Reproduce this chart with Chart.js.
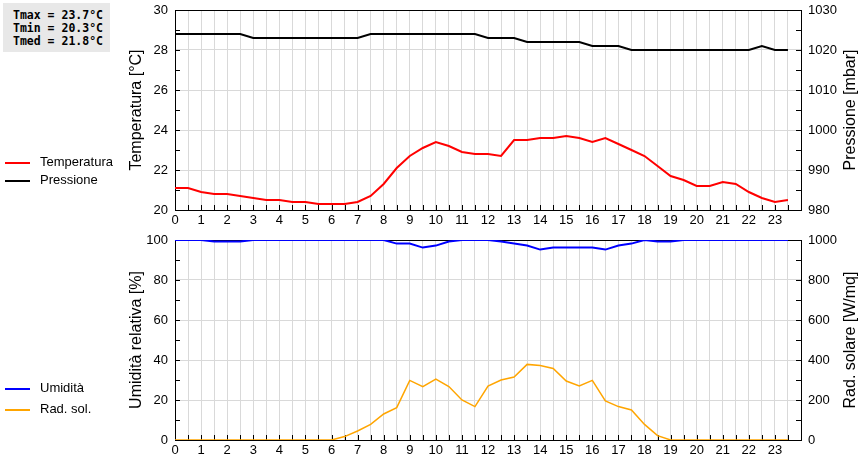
<!DOCTYPE html>
<html>
<head>
<meta charset="utf-8">
<script src="https://cdn.jsdelivr.net/npm/chart.js@4/dist/chart.umd.min.js"></script>
<style>
  body { margin: 0; width: 860px; height: 460px; background: #fff; position: relative; overflow: hidden; }
  .wrap { position: absolute; left: 0; width: 860px; height: 230px; }
  .stats {
    position: absolute; left: 3px; top: 3px; width: 97px; height: 40px;
    padding: 6px 0 3px 10px; background: #e8e8e8;
    font: bold 11.5px "DejaVu Sans Mono", monospace; line-height: 13px; color: #000; white-space: pre;
  }
  .leg { position: absolute; left: 5px; font: 13px "Liberation Sans", Arial, sans-serif; color: #000; }
  .leg span { display: inline-block; width: 25px; height: 2px; vertical-align: middle; margin-right: 10px; }
</style>
</head>
<body>
<div class="wrap" style="top:0"><canvas id="top"></canvas></div>
<div class="wrap" style="top:230px"><canvas id="bottom"></canvas></div>

<div class="stats">Tmax = 23.7°C
Tmin = 20.3°C
Tmed = 21.8°C</div>

<div class="leg" style="top:154px"><span style="background:#ff0000"></span>Temperatura</div>
<div class="leg" style="top:172px"><span style="background:#000000"></span>Pressione</div>
<div class="leg" style="top:380px"><span style="background:#0000ff"></span>Umidità</div>
<div class="leg" style="top:401px"><span style="background:#ffa500"></span>Rad. sol.</div>

<script>
// half-hour readings
const hours = [0, 0.5, 1, 1.5, 2, 2.5, 3, 3.5, 4, 4.5, 5, 5.5, 6, 6.5, 7, 7.5,
    8, 8.5, 9, 9.5, 10, 10.5, 11, 11.5, 12, 12.5, 13, 13.5, 14, 14.5, 15, 15.5,
    16, 16.5, 17, 17.5, 18, 18.5, 19, 19.5, 20, 20.5, 21, 21.5, 22, 22.5, 23, 23.5];

const temperatura = [21.1, 21.1, 20.9, 20.8, 20.8, 20.7, 20.6, 20.5, 20.5, 20.4, 20.4, 20.3,
    20.3, 20.3, 20.4, 20.7, 21.3, 22.1, 22.7, 23.1, 23.4, 23.2, 22.9, 22.8,
    22.8, 22.7, 23.5, 23.5, 23.6, 23.6, 23.7, 23.6, 23.4, 23.6, 23.3, 23.0,
    22.7, 22.2, 21.7, 21.5, 21.2, 21.2, 21.4, 21.3, 20.9, 20.6, 20.4, 20.5];

const pressione = [1024, 1024, 1024, 1024, 1024, 1024, 1023, 1023, 1023, 1023, 1023, 1023,
    1023, 1023, 1023, 1024, 1024, 1024, 1024, 1024, 1024, 1024, 1024, 1024,
    1023, 1023, 1023, 1022, 1022, 1022, 1022, 1022, 1021, 1021, 1021, 1020,
    1020, 1020, 1020, 1020, 1020, 1020, 1020, 1020, 1020, 1021, 1020, 1020];

const umidita = [100, 100, 100, 99.3, 99.3, 99.3, 100, 100, 100, 100, 100, 100,
    100, 100, 100, 100, 100, 98.2, 98.2, 96.2, 97.2, 99.2, 100, 100,
    100, 99.2, 98.3, 97.2, 95.2, 96.2, 96.2, 96.2, 96.2, 95.2, 97.2, 98.2,
    100, 99.3, 99.3, 100, 100, 100, 100, 100, 100, 100, 100, 100];

const radSolare = [0, 0, 0, 0, 0, 0, 0, 0, 0, 0, 0, 0,
    0, 17, 45, 78, 130, 162, 298, 267, 305, 267, 200, 167,
    270, 300, 315, 378, 372, 358, 295, 270, 298, 195, 167, 150,
    78, 22, 0, 0, 0, 0, 0, 0, 0, 0, 0, 0];

// axis ticks
const hourTicks = hours;
const tempTicks = [20, 21, 22, 23, 24, 25, 26, 27, 28, 29, 30];
const pressTicks = [980, 985, 990, 995, 1000, 1005, 1010, 1015, 1020, 1025, 1030];
const humTicks = [0, 10, 20, 30, 40, 50, 60, 70, 80, 90, 100];
const radTicks = [0, 100, 200, 300, 400, 500, 600, 700, 800, 900, 1000];

const FONT = '"Liberation Sans", Arial, sans-serif';
const GRID = '#d9d9d9';

function points(values) {
    return hours.map((h, i) => ({ x: h, y: values[i] }));
}

// black frame + short inward tick marks under the lines,
// right title read bottom-up like the left one
const frameTicks = {
    id: 'frameTicks',
    beforeDatasetsDraw(chart) {
        const { ctx, chartArea: a, scales } = chart;
        const px = v => Math.round(v) + 0.5;
        ctx.save();
        ctx.strokeStyle = '#000';
        ctx.lineWidth = 1;
        ctx.beginPath();
        ctx.moveTo(a.left, px(a.top));
        ctx.lineTo(a.right, px(a.top));
        scales.x.ticks.forEach(t => {
            const x = px(scales.x.getPixelForValue(t.value));
            ctx.moveTo(x, a.bottom);
            ctx.lineTo(x, a.bottom - 5);
        });
        scales.y.ticks.forEach(t => {
            const y = px(scales.y.getPixelForValue(t.value));
            ctx.moveTo(a.left, y);
            ctx.lineTo(a.left + 5, y);
        });
        scales.y2.ticks.forEach(t => {
            const y = px(scales.y2.getPixelForValue(t.value));
            ctx.moveTo(a.right, y);
            ctx.lineTo(a.right - 5, y);
        });
        ctx.stroke();
        ctx.restore();
    },
    afterDraw(chart) {
        const { ctx, chartArea: a, scales } = chart;
        ctx.save();
        ctx.translate(scales.y2.right - 9.6, (a.top + a.bottom) / 2);
        ctx.rotate(-Math.PI / 2);
        ctx.fillStyle = '#000';
        ctx.font = '16px ' + FONT;
        ctx.textAlign = 'center';
        ctx.textBaseline = 'middle';
        ctx.fillText(chart.options.rightTitle, 0, 0);
        ctx.restore();
    }
};

function fitY(width) {
    return s => {
        s.width = width;
        s.paddingTop = 0;
        s.paddingBottom = 0;
    };
}

function buildConfig(datasets, left, right) {
    return {
        type: 'line',
        data: { datasets },
        plugins: [frameTicks],
        options: {
            responsive: false,
            animation: false,
            rightTitle: right.title,
            layout: { padding: { left: 127, right: 0, top: 10, bottom: 0 } },
            elements: { point: { radius: 0 }, line: { tension: 0 } },
            plugins: { legend: { display: false }, tooltip: { enabled: false } },
            scales: {
                x: {
                    type: 'linear',
                    min: 0,
                    max: 24,
                    afterBuildTicks: s => { s.ticks = hourTicks.map(v => ({ value: v })); },
                    afterFit: s => { s.height = 20; },
                    grid: { color: GRID, drawTicks: false },
                    border: { color: '#000' },
                    ticks: {
                        autoSkip: false, maxRotation: 0, padding: 3,
                        color: '#000', font: { family: FONT, size: 13 },
                        callback: v => Number.isInteger(v) ? v : ''
                    }
                },
                y: {
                    position: 'left',
                    min: left.ticks[0],
                    max: left.ticks[left.ticks.length - 1],
                    afterBuildTicks: s => { s.ticks = left.ticks.map(v => ({ value: v })); },
                    afterFit: fitY(48),
                    grid: {
                        drawTicks: false,
                        color: c => (c.index % 2 === 0 ? GRID : 'rgba(0,0,0,0)')
                    },
                    border: { color: '#000' },
                    title: { display: true, text: left.title, color: '#000', padding: 0, font: { family: FONT, size: 16 } },
                    ticks: {
                        padding: 7, color: '#000', font: { family: FONT, size: 13 },
                        callback: (v, i) => (i % 2 === 0 ? v : '')
                    }
                },
                y2: {
                    position: 'right',
                    min: right.ticks[0],
                    max: right.ticks[right.ticks.length - 1],
                    afterBuildTicks: s => { s.ticks = right.ticks.map(v => ({ value: v })); },
                    afterFit: fitY(59),
                    grid: { display: false, drawTicks: false },
                    border: { color: '#000' },
                    ticks: {
                        padding: 7, color: '#000', font: { family: FONT, size: 13 },
                        callback: (v, i) => (i % 2 === 0 ? v : '')
                    }
                }
            }
        }
    };
}

function makeCanvas(id) {
    const c = document.getElementById(id);
    c.width = 860;
    c.height = 230;
    c.style.width = '860px';
    c.style.height = '230px';
    return c.getContext('2d');
}

new Chart(makeCanvas('top'), buildConfig([
    { label: 'Temperatura', data: points(temperatura), borderColor: '#ff0000', borderWidth: 2, yAxisID: 'y' },
    { label: 'Pressione', data: points(pressione), borderColor: '#000000', borderWidth: 2, yAxisID: 'y2' }
], { ticks: tempTicks, title: 'Temperatura [°C]' }, { ticks: pressTicks, title: 'Pressione [mbar]' }));

new Chart(makeCanvas('bottom'), buildConfig([
    { label: 'Umidità', data: points(umidita), borderColor: '#0000ff', borderWidth: 2, yAxisID: 'y' },
    { label: 'Rad. sol.', data: points(radSolare), borderColor: '#ffa500', borderWidth: 1.5, yAxisID: 'y2' }
], { ticks: humTicks, title: 'Umidità relativa [%]' }, { ticks: radTicks, title: 'Rad. solare [W/mq]' }));
</script>
</body>
</html>
